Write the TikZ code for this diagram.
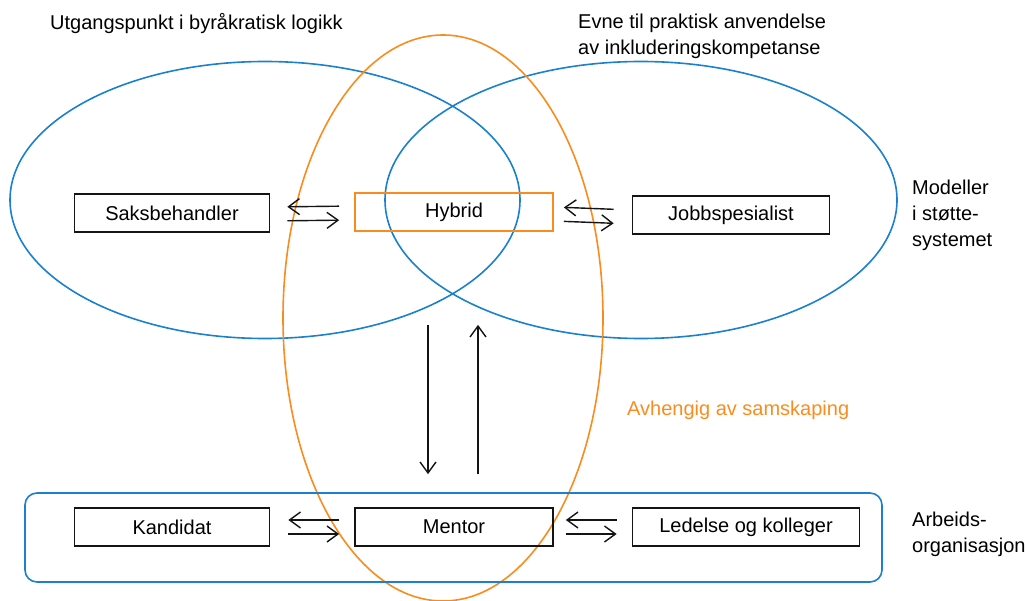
\documentclass[tikz,border=0pt]{standalone}
\usepackage{fontspec}
\setmainfont{Liberation Sans}
\usetikzlibrary{arrows.meta,positioning,shapes.geometric}
\definecolor{kblue}{RGB}{27,128,205}
\definecolor{korange}{RGB}{250,140,30}
\definecolor{kink}{RGB}{20,20,20}
\tikzset{
  rolebox/.style={draw=kink, line width=1.7pt, minimum height=38pt, inner sep=2pt, font=\fontsize{20}{24}\selectfont},
  hybbox/.style={rolebox, draw=korange},
  blob/.style={ellipse, draw=kblue, line width=1.6pt},
  oblob/.style={ellipse, draw=korange, line width=1.6pt},
  txt/.style={font=\fontsize{20}{26}\selectfont, align=left, inner sep=0pt},
  pair/.style={-{Straight Barb[length=11pt, width=16pt]}, kink, line width=1.4pt},
}

\begin{document}
\begin{tikzpicture}[x=1pt, y=-1pt]
  \useasboundingbox (0,0) rectangle (1028,601);
  % the three fields
  \node[blob, minimum width=510pt, minimum height=277pt] (byr) at (265,200) {};
  \node[blob, minimum width=512pt, minimum height=277pt] (inkl) at (641,200) {};
  \node[oblob, minimum width=320pt, minimum height=566pt] (sam) at (443,318) {};
  \draw[kblue, line width=1.6pt, rounded corners=12pt] (25,493) rectangle (882,582);
  % roles
  \node[rolebox, minimum width=195pt] (saks) at (172,213) {Saksbehandler};
  \node[hybbox, minimum width=198pt] (hyb) at (454,212) {Hybrid};
  \node[rolebox, minimum width=197pt] (jobb) at (731,215) {Jobbspesialist};
  \node[rolebox, minimum width=195pt] (kand) at (172,527) {Kandidat};
  \node[rolebox, minimum width=198pt] (ment) at (454,527) {Mentor};
  \node[rolebox, minimum width=227pt] (led) at (746,527) {Ledelse og kolleger};
  % arrows
  \draw[pair, shorten <=15pt, shorten >=17pt] ([yshift=6pt]hyb.west) -- ([yshift=6pt]saks.east);
  \draw[pair, shorten <=17pt, shorten >=15pt] ([yshift=-8pt]saks.east) -- ([yshift=-8pt]hyb.west);
  \draw[pair, shorten <=18pt, shorten >=10pt] ([yshift=5pt]jobb.west) -- ([yshift=5pt]hyb.east);
  \draw[pair, shorten <=10pt, shorten >=18pt] ([yshift=-9pt]hyb.east) -- ([yshift=-9pt]jobb.west);
  \draw[pair, shorten <=15pt, shorten >=18pt] ([yshift=7pt]ment.west) -- ([yshift=7pt]kand.east);
  \draw[pair, shorten <=18pt, shorten >=15pt] ([yshift=-7pt]kand.east) -- ([yshift=-7pt]ment.west);
  \draw[pair, shorten <=15pt, shorten >=12pt] ([yshift=7pt]led.west) -- ([yshift=7pt]ment.east);
  \draw[pair, shorten <=12pt, shorten >=15pt] ([yshift=-7pt]ment.east) -- ([yshift=-7pt]led.west);
  \draw[pair, shorten <=93pt, shorten >=33pt] ([xshift=-26pt]hyb.south) -- ([xshift=-26pt]ment.north);
  \draw[pair, shorten <=33pt, shorten >=93pt] ([xshift=24pt]ment.north) -- ([xshift=24pt]hyb.south);
  % labels
  \node[txt, anchor=west] (tbyr) at (50,24) {Utgangspunkt i byråkratisk logikk};
  \node[txt, anchor=north west] (tinkl) at (578,14) {Evne til praktisk anvendelse\\av inkluderingskompetanse};
  \node[txt, anchor=north west] (tmod) at (912,180) {Modeller\\i støtte-\\systemet};
  \node[txt, anchor=north west] (tarb) at (912,512) {Arbeids-\\organisasjon};
  \node[txt, anchor=west, text=korange] (tsam) at (627,410) {Avhengig av samskaping};
\end{tikzpicture}
\end{document}
